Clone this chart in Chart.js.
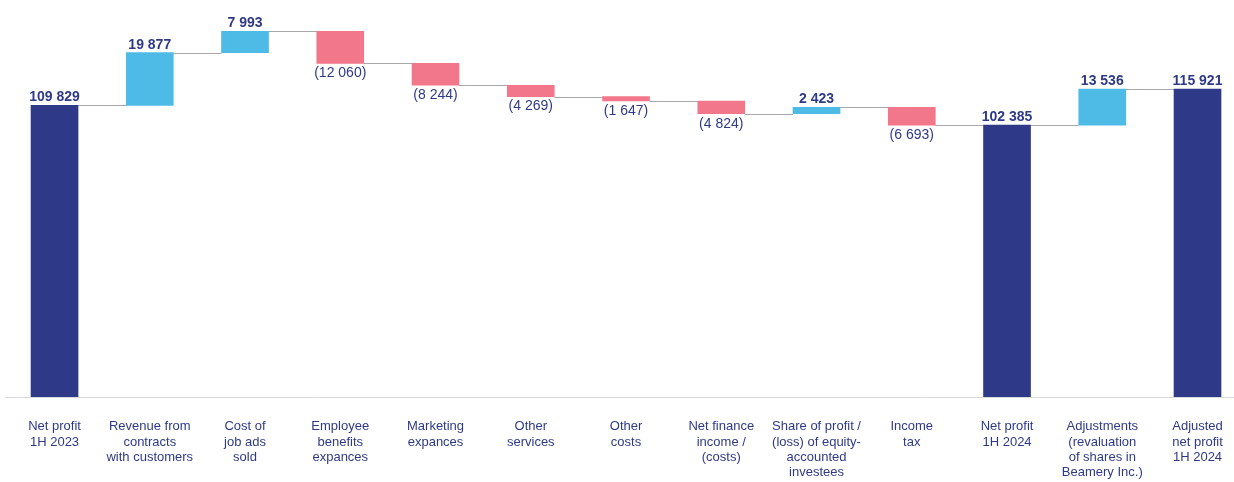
<!DOCTYPE html>
<html>
<head>
<meta charset="utf-8">
<script src="https://cdn.jsdelivr.net/npm/chart.js@4.4.1/dist/chart.umd.min.js"></script>
<style>
  html, body { margin: 0; padding: 0; background: #fff; }
  #wrap { width: 1234px; height: 482px; position: relative; }
</style>
</head>
<body>
<div id="wrap"><canvas id="grafico1"></canvas></div>
<script>
// categories (multi-line tick labels)
let categorias = [
    ['Net profit', '1H 2023'],
    ['Revenue from', 'contracts', 'with customers'],
    ['Cost of', 'job ads', 'sold'],
    ['Employee', 'benefits', 'expances'],
    ['Marketing', 'expances'],
    ['Other', 'services'],
    ['Other', 'costs'],
    ['Net finance', 'income /', '(costs)'],
    ['Share of profit /', '(loss) of equity-', 'accounted', 'investees'],
    ['Income', 'tax'],
    ['Net profit', '1H 2024'],
    ['Adjustments', '(revaluation', 'of shares in', 'Beamery Inc.)'],
    ['Adjusted', 'net profit', '1H 2024']
];
let valores = [109829, 19877, 7993, -12060, -8244, -4269, -1647, -4824, 2423, -6693, 102385, 13536, 115921];
let esTotal = [true, false, false, false, false, false, false, false, false, false, true, false, true];

const AZUL_OSCURO = '#2e3a88';
const AZUL_CLARO = '#4dbbe6';
const ROSA = '#f3778a';
const TEXTO = '#2e3a88';

// build floating ranges
let rangos = [];
let niveles = [];
let acumulado = 0;
valores.forEach((v, i) => {
    if (esTotal[i]) {
        rangos.push({x: i, y: [0, v]});
        acumulado = v;
    } else {
        rangos.push({x: i, y: [acumulado, acumulado + v]});
        acumulado += v;
    }
    niveles.push(acumulado);
});
let colores = valores.map((v, i) => esTotal[i] ? AZUL_OSCURO : (v >= 0 ? AZUL_CLARO : ROSA));

function formato(v) {
    let s = Math.abs(v).toString().replace(/\B(?=(\d{3})+(?!\d))/g, ' ');
    return v < 0 ? '(' + s + ')' : s;
}

const BAR_W = 47;

// connector lines + value labels
let pluginCascada = {
    id: 'cascada',
    beforeDatasetsDraw(chart) {
        let ctx = chart.ctx;
        let xs = chart.scales.x, ys = chart.scales.y;
        ctx.save();
        ctx.strokeStyle = '#a8a8a8';
        ctx.lineWidth = 1;
        for (let i = 0; i < niveles.length - 1; i++) {
            let y = Math.round(ys.getPixelForValue(niveles[i])) + 0.5;
            ctx.beginPath();
            ctx.moveTo(xs.getPixelForValue(i) + BAR_W / 2, y);
            ctx.lineTo(xs.getPixelForValue(i + 1) - BAR_W / 2, y);
            ctx.stroke();
        }
        ctx.restore();
    },
    afterDatasetsDraw(chart) {
        let ctx = chart.ctx;
        let meta = chart.getDatasetMeta(0);
        ctx.save();
        ctx.fillStyle = TEXTO;
        ctx.textAlign = 'center';
        meta.data.forEach((bar, i) => {
            let top = Math.min(bar.y, bar.base);
            let bottom = Math.max(bar.y, bar.base);
            let v = valores[i];
            if (v < 0) {
                ctx.font = '14px "Liberation Sans", Arial, sans-serif';
                ctx.textBaseline = 'top';
                ctx.fillText(formato(v), bar.x, bottom + 3);
            } else {
                ctx.font = 'bold 14px "Liberation Sans", Arial, sans-serif';
                ctx.textBaseline = 'alphabetic';
                ctx.fillText(formato(v), bar.x, top - 4);
            }
        });
        ctx.restore();
    }
};

let canvasG1 = document.getElementById('grafico1').getContext('2d');
let datos = {
    datasets: [{
        data: rangos,
        backgroundColor: colores,
        borderWidth: 0,
        barThickness: BAR_W
    }]
};
let opciones = {
    maintainAspectRatio: false,
    responsive: true,
    animation: false,
    layout: {padding: {left: 5, right: 0, top: 0, bottom: 0}},
    plugins: {legend: {display: false}, tooltip: {enabled: false}},
    scales: {
        x: {
            type: 'linear',
            offset: false,
            min: -0.52,
            max: 12.383,
            grid: {display: false, drawTicks: false, offset: false},
            border: {display: true, color: '#d9d9d9', width: 1},
            afterFit(scale) {
                scale.height = 85;
                scale.paddingLeft = 0;
                scale.paddingRight = 0;
            },
            ticks: {
                stepSize: 1,
                includeBounds: false,
                autoSkip: false,
                maxRotation: 0,
                minRotation: 0,
                padding: 22,
                color: TEXTO,
                font: {family: '"Liberation Sans", Arial, sans-serif', size: 13, lineHeight: 1.18},
                callback: (v) => categorias[v]
            }
        },
        y: {
            display: false,
            min: 0,
            max: 149500
        }
    }
};
let G1 = new Chart(canvasG1, {
    type: 'bar',
    data: datos,
    options: opciones,
    plugins: [pluginCascada]
});
</script>
</body>
</html>
